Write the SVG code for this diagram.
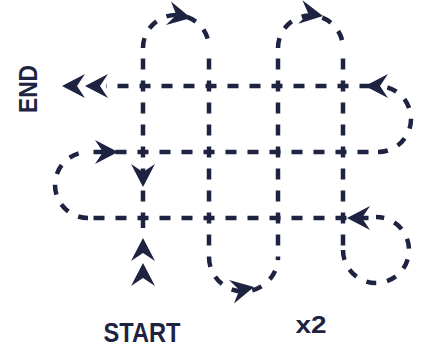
<svg xmlns="http://www.w3.org/2000/svg" xmlns:xlink="http://www.w3.org/1999/xlink" width="421" height="347" viewBox="0 0 421 347">
<style>
.d{fill:none;stroke:#1d2340;stroke-width:4.5;stroke-dasharray:11 11;stroke-dashoffset:5.5}
.a{fill:none;stroke:#1d2340;stroke-width:4.5;stroke-dasharray:10 11}
.s{fill:none;stroke:#1d2340;stroke-width:4.5}
.t{font-family:"Liberation Sans",Arial,sans-serif;font-weight:bold;fill:#1d2340}
.h{fill:#1d2340}
</style>
<defs>
<path id="ah" d="M0,0 L-23,-12 L-15,0 L-23,12 Z"/>
</defs>
<rect width="421" height="347" fill="#ffffff"/>
<g id="connectors">
<path class="d" d="M143,218 V48"/>
<path class="s" d="M143,218 V228"/>
<path class="d" d="M209,86 V48 M209,86 V257"/>
<path class="d" d="M278,86 V48 M278,86 V257"/>
<path class="d" d="M343,86 V48 M343,86 V250"/>
<path class="d" d="M343,86 H106 M343,86 H378"/>
<path class="d" d="M143,152 H88 M143,152 H378"/>
<path class="d" d="M143,218 H88 M143,218 H376"/>
<path class="a" d="M143,48 A33,33 0 0 1 209,48"/>
<path class="a" d="M209,257 A34.5,34.5 0 0 0 278,257"/>
<path class="a" d="M278,48 A32.5,32.5 0 0 1 343,48"/>
<path class="a" d="M343,250 A33,33 0 1 0 376,217"/>
<path class="a" d="M88,218 A33,33 0 0 1 88,152"/>
<path class="a" d="M378,152 A33,33 0 0 0 378,86"/>
<g class="h">
<use xlink:href="#ah" transform="translate(191,18) rotate(12)"/>
<use xlink:href="#ah" transform="translate(323,16) rotate(10)"/>
<use xlink:href="#ah" transform="translate(254,287) rotate(-12)"/>
<use xlink:href="#ah" transform="translate(365,86) rotate(180)"/>
<use xlink:href="#ah" transform="translate(347,218) rotate(180)"/>
<use xlink:href="#ah" transform="translate(118,152)"/>
<use xlink:href="#ah" transform="translate(143,187) rotate(90)"/>
<use xlink:href="#ah" transform="translate(143,238) rotate(-90)"/>
<use xlink:href="#ah" transform="translate(143,263) rotate(-90)"/>
<use xlink:href="#ah" transform="translate(62,86) rotate(180)"/>
<use xlink:href="#ah" transform="translate(85,86) rotate(180)"/>
</g>
</g>
<g id="end"><text class="t" font-size="26" text-anchor="middle" textLength="48" lengthAdjust="spacingAndGlyphs" transform="translate(37,89) rotate(-90)">END</text></g>
<g id="start"><text class="t" font-size="28" x="142" y="342" text-anchor="middle" textLength="77" lengthAdjust="spacingAndGlyphs">START</text></g>
<g id="x2"><text class="t" font-size="24" x="311" y="333" text-anchor="middle" textLength="31" lengthAdjust="spacingAndGlyphs">x2</text></g>
</svg>
